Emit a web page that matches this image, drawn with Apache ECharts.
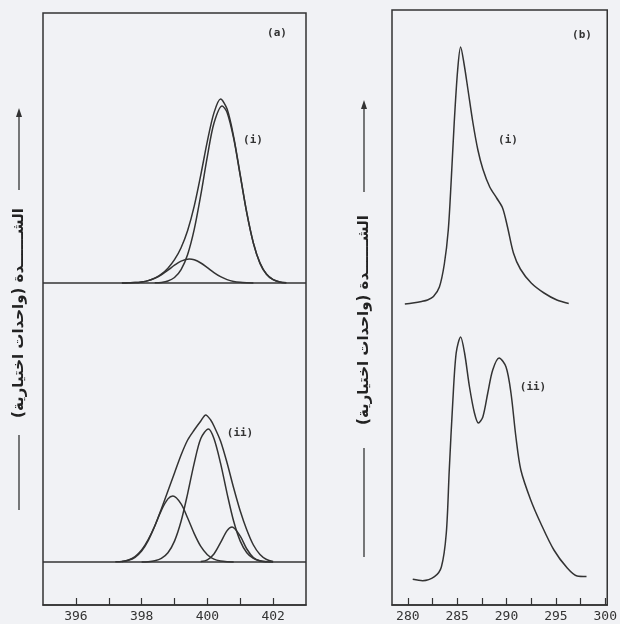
<!DOCTYPE html>
<html>
<head>
<meta charset="utf-8">
<script src="https://cdn.jsdelivr.net/npm/echarts@6/dist/echarts.min.js"></script>
<style>
  html, body { margin: 0; padding: 0; background: #f1f2f5; }
  #chart { width: 620px; height: 624px; }
</style>
</head>
<body>
<div id="chart"></div>
<script>
// ---- data ----
// panel (a): N1s region, intensity in arbitrary units
const ticksA = [396, 397, 398, 399, 400, 401, 402];
const labelsA = [396, 398, 400, 402];
const baseAi = 322;
const baseAii = 43;

const envAi = [[397.4, 322.0], [397.6, 322.2], [397.8, 322.4], [398.0, 323.1], [398.2, 324.4], [398.4, 326.9],
  [398.6, 330.8], [398.8, 336.8], [399.0, 345.3], [399.2, 357.3], [399.4, 374.5], [399.6, 398.8],
  [399.8, 430.1], [400.0, 463.9], [400.2, 492.1], [400.4, 506], [400.6, 495.9], [400.8, 468.2],
  [401.0, 430.1], [401.2, 392.1], [401.4, 361.9], [401.6, 341.9], [401.8, 330.7], [402.0, 325.3],
  [402.2, 323.1], [402.4, 322.3]];
const mainAi = [[398.4, 322.2], [398.6, 322.6], [398.8, 324.0], [399.0, 327.5], [399.2, 335.4], [399.4, 350.6],
  [399.6, 375.6], [399.8, 410.1], [400.0, 448.6], [400.2, 481.7], [400.45, 499], [400.6, 492.5],
  [400.8, 466.6], [401.0, 429.4], [401.2, 391.8], [401.4, 361.8], [401.6, 341.9], [401.8, 330.7],
  [402.0, 325.3], [402.2, 323.1], [402.4, 322.3]];
const smallAi = [[397.4, 322.0], [397.6, 322.2], [397.8, 322.4], [398.0, 323.1], [398.2, 324.4], [398.4, 326.7],
  [398.6, 330.2], [398.8, 334.8], [399.0, 339.8], [399.2, 343.9], [399.45, 346], [399.6, 345.2],
  [399.8, 342.0], [400.0, 337.3], [400.2, 332.4], [400.4, 328.3], [400.6, 325.4], [400.8, 323.6],
  [401.0, 322.7], [401.2, 322.3], [401.4, 322.1]];

const envAii = [[397.4, 43.5], [397.6, 45], [397.8, 48.5], [398.0, 55], [398.2, 65.5], [398.4, 79],
  [398.6, 96], [398.8, 114], [399.0, 132], [399.2, 150], [399.4, 165], [399.6, 175], [399.8, 184],
  [399.95, 190], [400.1, 185], [400.2, 179], [400.4, 164], [400.6, 142], [400.8, 117], [401.0, 94],
  [401.2, 75], [401.4, 60], [401.6, 50.5], [401.8, 45.5], [402.0, 43.5]];
const mainAii = [[398.0, 43.1], [398.2, 43.3], [398.4, 44.2], [398.6, 46.6], [398.8, 52.3], [399.0, 63.9],
  [399.2, 83.7], [399.4, 111.4], [399.6, 141.9], [399.8, 166.5], [400.03, 176], [400.2, 166.5],
  [400.4, 141.9], [400.6, 111.4], [400.8, 83.7], [401.0, 63.9], [401.2, 52.3], [401.4, 46.6],
  [401.6, 44.2], [401.8, 43.3], [402.0, 43.1]];
const leftAii = [[397.2, 43.2], [397.4, 43.5], [397.6, 44.7], [397.8, 47.7], [398.0, 53.9], [398.2, 64.4],
  [398.4, 79.0], [398.6, 94.7], [398.8, 106.1], [398.95, 109], [399.2, 101.2], [399.4, 87.0],
  [399.6, 71.4], [399.8, 58.6], [400.0, 50.3], [400.2, 45.9], [400.4, 44.0], [400.6, 43.3], [400.8, 43.1]];
const rightAii = [[399.8, 43.4], [400.0, 45.2], [400.2, 51.0], [400.4, 62.3], [400.6, 74.4], [400.75, 78],
  [401.0, 68.8], [401.2, 56.0], [401.4, 47.4], [401.6, 44.0], [401.8, 43.2]];

// panel (b): C1s region
const ticksB = [280, 282.5, 285, 287.5, 290, 292.5, 295, 297.5, 300];
const labelsB = [280, 285, 290, 295, 300];

const curveBi = [[279.7, 301], [280.5, 302], [281.4, 303.5], [282.0, 305], [282.6, 308.5], [283.2, 318],
  [283.7, 341], [284.1, 375], [284.4, 425], [284.7, 482], [285.05, 535], [285.35, 558], [285.7, 541],
  [286.1, 515], [286.6, 482], [287.1, 455], [287.6, 436], [288.3, 418], [289.0, 407], [289.6, 397],
  [290.1, 378], [290.7, 352], [291.4, 336], [292.5, 322], [293.8, 312], [295.1, 305], [296.3, 301.5]];
const curveBii = [[280.5, 25.7], [281.5, 24.3], [282.7, 28.3], [283.4, 38], [283.9, 72], [284.2, 135],
  [284.55, 202], [284.9, 252], [285.35, 268], [285.75, 252], [286.25, 218], [286.75, 192], [287.15, 182],
  [287.6, 188], [288.1, 212], [288.6, 235], [289.25, 247], [289.95, 238], [290.45, 212], [290.95, 168],
  [291.45, 135], [292.45, 105], [293.45, 82], [294.8, 55], [296.15, 37], [297.15, 29], [298.1, 28.5]];

const yName = 'الشــــــدة (واحدات اختيارية)';

// ---- chart ----
const ink = '#333';
const chart = echarts.init(document.getElementById('chart'));

const xAxisCommon = (grid, min, max, ticks, labels) => ({
  gridIndex: grid,
  type: 'value',
  min: min,
  max: max,
  splitLine: { show: false },
  axisLine: { show: true, lineStyle: { color: ink, width: 1.5 } },
  axisTick: { show: true, inside: true, length: 7, customValues: ticks, lineStyle: { color: ink, width: 1.2 } },
  axisLabel: {
    customValues: labels,
    color: '#333',
    fontFamily: 'DejaVu Sans Mono',
    fontSize: 13,
    margin: 5,
  },
});

const yAxisCommon = (grid, max) => ({
  gridIndex: grid,
  type: 'value',
  min: 0,
  max: max,
  axisLine: { show: false },
  axisTick: { show: false },
  axisLabel: { show: false },
  splitLine: { show: false },
});

const curve = (data, xi) => ({
  type: 'line',
  xAxisIndex: xi,
  yAxisIndex: xi,
  data: data,
  smooth: 0.3,
  symbol: 'none',
  silent: true,
  lineStyle: { color: ink, width: 1.5 },
});

const tag = (text, x, y) => ({
  type: 'text',
  x: x,
  y: y,
  style: {
    text: text,
    fill: '#333',
    font: 'bold 11px "DejaVu Sans Mono"',
    align: 'center',
    verticalAlign: 'middle',
  },
});

// rotated y axis title with arrow above and a bar below
const yTitle = (x, yc, y0, y1, y2, y3) => ({
  type: 'group',
  children: [
    {
      type: 'text',
      x: x,
      y: yc,
      rotation: Math.PI / 2,
      style: {
        text: yName,
        fill: '#222',
        font: 'bold 15px "DejaVu Sans"',
        align: 'center',
        verticalAlign: 'middle',
      },
    },
    { type: 'line', shape: { x1: x, y1: y1, x2: x, y2: y0 + 6 }, style: { stroke: ink, lineWidth: 1.3 } },
    { type: 'polygon', shape: { points: [[x, y0], [x - 3, y0 + 9], [x + 3, y0 + 9]] }, style: { fill: ink } },
    { type: 'line', shape: { x1: x, y1: y2, x2: x, y2: y3 }, style: { stroke: ink, lineWidth: 1.3 } },
  ],
});

const option = {
  backgroundColor: '#f1f2f5',
  animation: false,
  grid: [
    { left: 43, top: 13, width: 263, height: 592, show: true, borderColor: ink, borderWidth: 1.5 },
    { left: 392, top: 10, width: 216, height: 595, show: true, borderColor: ink, borderWidth: 1.5 },
  ],
  xAxis: [
    xAxisCommon(0, 395, 403, ticksA, labelsA),
    xAxisCommon(1, 278.4, 300.2, ticksB, labelsB),
  ],
  yAxis: [
    yAxisCommon(0, 592),
    yAxisCommon(1, 595),
  ],
  series: [
    curve([[395, baseAi], [403, baseAi]], 0),
    curve(envAi, 0),
    curve(mainAi, 0),
    curve(smallAi, 0),
    curve([[395, baseAii], [403, baseAii]], 0),
    curve(envAii, 0),
    curve(mainAii, 0),
    curve(leftAii, 0),
    curve(rightAii, 0),
    curve(curveBi, 1),
    curve(curveBii, 1),
  ],
  graphic: [
    tag('(a)', 277, 33),
    tag('(i)', 253, 140),
    tag('(ii)', 240, 433),
    tag('(b)', 582, 35),
    tag('(i)', 508, 140),
    tag('(ii)', 533, 387),
    yTitle(19, 313, 108, 190, 435, 510),
    yTitle(364, 320, 100, 192, 448, 557),
  ],
};

chart.setOption(option);
</script>
</body>
</html>
